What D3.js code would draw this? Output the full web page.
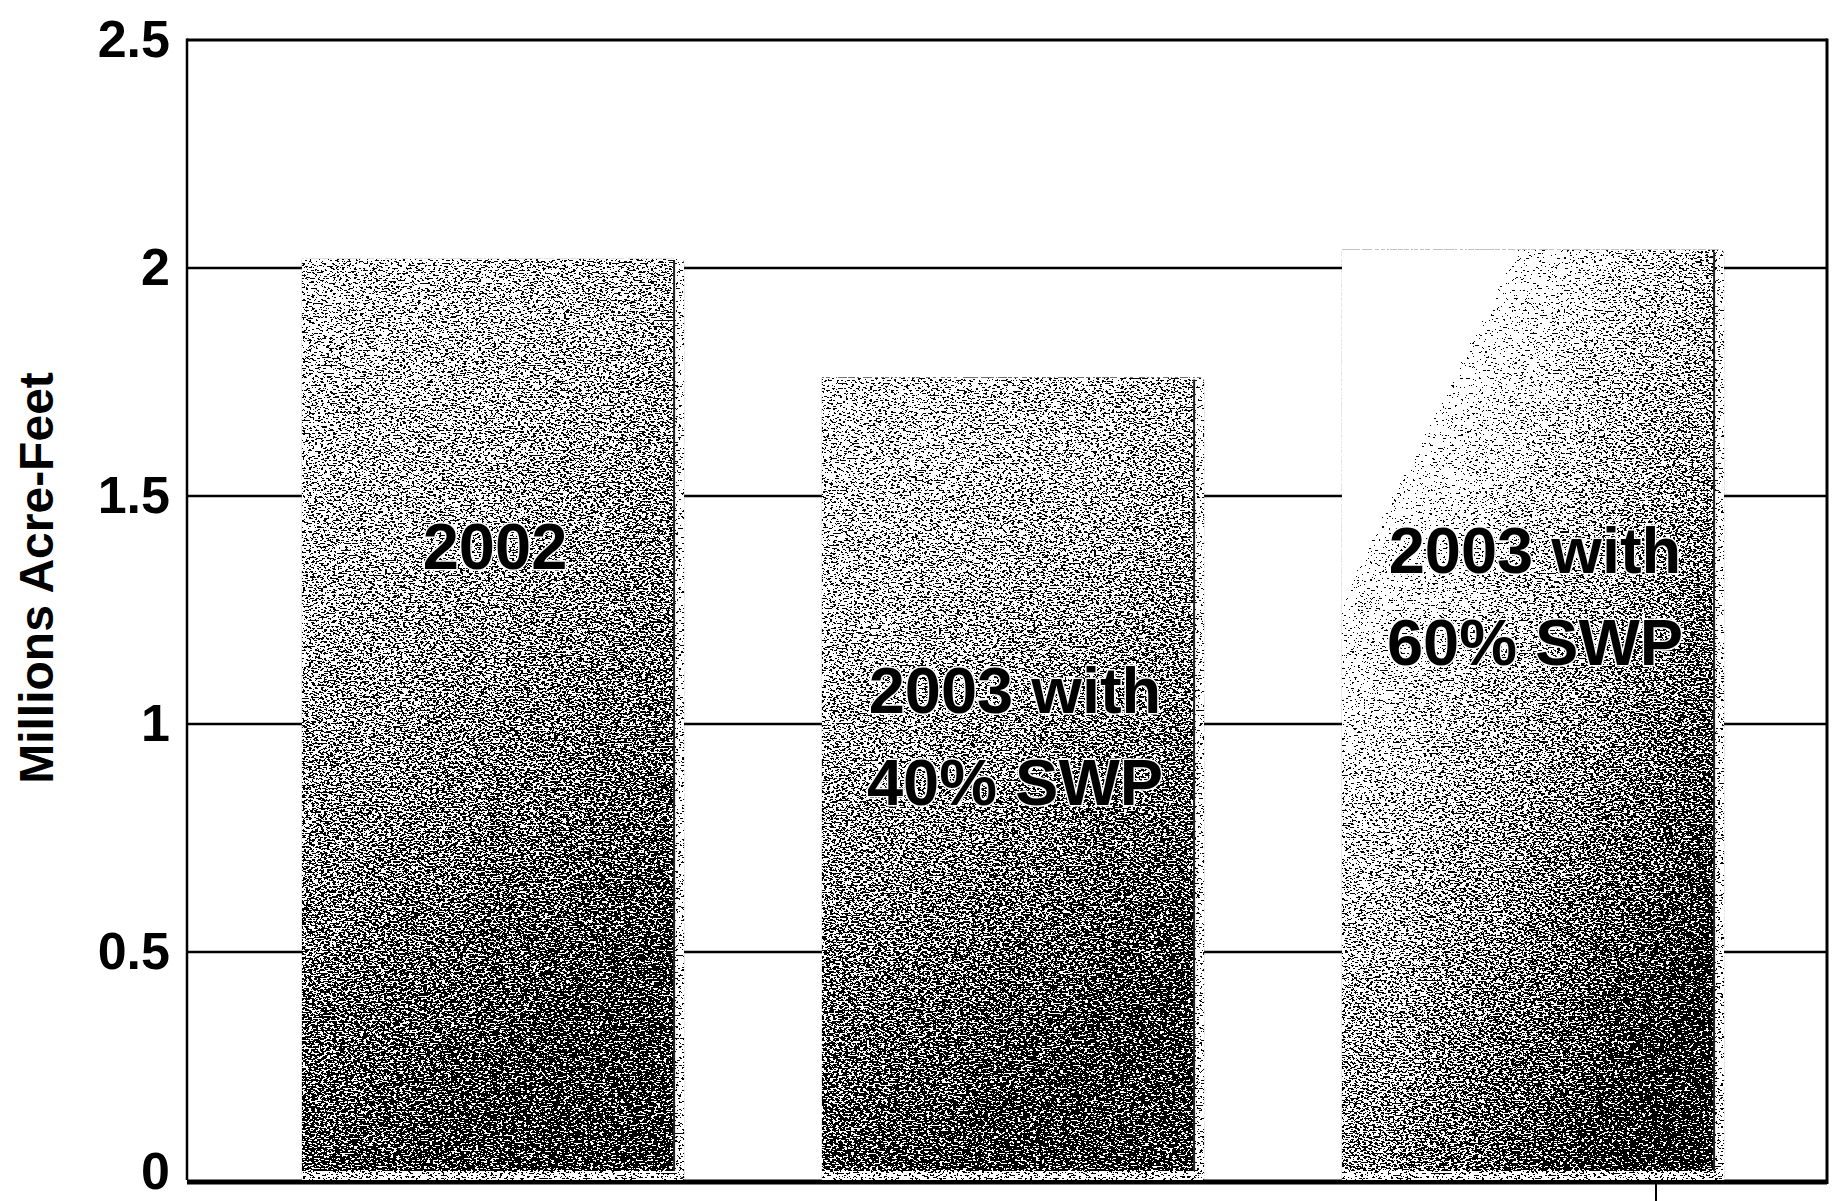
<!DOCTYPE html>
<html>
<head>
<meta charset="utf-8">
<script src="https://cdn.jsdelivr.net/npm/d3@7"></script>
<style>
  html, body { margin: 0; padding: 0; background: #fff; }
  svg { display: block; }
  text { font-family: "Liberation Sans", Arial, Helvetica, sans-serif; font-weight: bold; }
</style>
</head>
<body>
<script>
// ---- data ----
const categories = ["2002", "2003 with 40% SWP", "2003 with 60% SWP"];
const barLabelLines = [["2002"], ["2003 with", "40% SWP"], ["2003 with", "60% SWP"]];
const values = [2.02, 1.76, 2.04];
const yTicks = [0, 0.5, 1, 1.5, 2, 2.5];
const yTickLabels = ["0", "0.5", "1", "1.5", "2", "2.5"];
const yTitle = "Millions Acre-Feet";

// ---- layout ----
const W = 1833, H = 1201;
const plotLeft = 187, plotRight = 1827;
const labelBaselines = [569, 713, 573];
const labelLineGap = 92;

const svg = d3.select("body").append("svg").attr("width", W).attr("height", H);
const defs = svg.append("defs");

// dithering filter (scanned halftone look)
const f = defs.append("filter").attr("id", "dither")
  .attr("filterUnits", "userSpaceOnUse").attr("x", 0).attr("y", 0).attr("width", W).attr("height", H)
  .attr("color-interpolation-filters", "sRGB");
f.append("feTurbulence").attr("type", "fractalNoise").attr("baseFrequency", "0.33 0.6")
  .attr("numOctaves", 2).attr("seed", 7).attr("result", "noise");
f.append("feColorMatrix").attr("in", "noise").attr("type", "matrix")
  .attr("values", "1 0 0 0 0  1 0 0 0 0  1 0 0 0 0  0 0 0 0 1").attr("result", "ng");
const st = f.append("feComponentTransfer").attr("in", "ng").attr("result", "ns");
["R", "G", "B"].forEach(c => st.append("feFunc" + c).attr("type", "linear").attr("slope", 2.6).attr("intercept", -0.8));
f.append("feComposite").attr("in", "SourceGraphic").attr("in2", "ns").attr("operator", "arithmetic")
  .attr("k1", 0).attr("k2", 1).attr("k3", 1).attr("k4", -0.5).attr("result", "sum");
const th = f.append("feComponentTransfer").attr("in", "sum").attr("result", "thr");
["R", "G", "B"].forEach(c => th.append("feFunc" + c).attr("type", "discrete").attr("tableValues", "0 1"));
th.append("feFuncA").attr("type", "linear").attr("slope", 0).attr("intercept", 1);
f.append("feComposite").attr("in", "thr").attr("in2", "SourceAlpha").attr("operator", "in");

// gradients per bar
const gradSpecs = [
  {x2: 0.35, y2: 1, stops: [[0, "#c0c0c0"], [0.35, "#a4a4a4"], [0.7, "#767676"], [1, "#484848"]]},
  {x2: 0.35, y2: 1, stops: [[0, "#c6c6c6"], [0.35, "#a8a8a8"], [0.7, "#767676"], [1, "#484848"]]},
  {x2: 0.76, y2: 0.96, stops: [[0, "#ffffff"], [0.24, "#ffffff"], [0.42, "#c0c0c0"], [0.6, "#989898"], [0.82, "#666666"], [1, "#3a3a3a"]]}
];
gradSpecs.forEach((g, i) => {
  const lg = defs.append("linearGradient").attr("id", "g" + i)
    .attr("x1", 0).attr("y1", 0).attr("x2", g.x2).attr("y2", g.y2);
  g.stops.forEach(s => lg.append("stop").attr("offset", s[0]).attr("stop-color", s[1]));
});
const sideGrad = defs.append("linearGradient").attr("id", "side").attr("x1", 0).attr("y1", 0).attr("x2", 0).attr("y2", 1);
sideGrad.append("stop").attr("offset", 0).attr("stop-color", "#e0e0e0");
sideGrad.append("stop").attr("offset", 1).attr("stop-color", "#c8c8c8");

// ---- scales ----
const x = d3.scaleBand().domain(categories).range([233, 1793]).paddingInner(0.265).paddingOuter(0.1325);
const y = d3.scaleLinear().domain([0, 2.5]).range([1180, 40]);

// gridlines
svg.append("g").selectAll("line").data(yTicks.filter(d => d > 0 && d < 2.5)).join("line")
  .attr("x1", plotLeft).attr("x2", plotRight)
  .attr("y1", d => y(d)).attr("y2", d => y(d))
  .attr("stroke", "#000").attr("stroke-width", 2.5);

// frame: top, right, left
svg.append("line").attr("x1", plotLeft).attr("x2", plotRight).attr("y1", y(2.5)).attr("y2", y(2.5))
  .attr("stroke", "#000").attr("stroke-width", 3);
svg.append("line").attr("x1", plotRight).attr("x2", plotRight).attr("y1", y(2.5) - 1.5).attr("y2", y(0) + 4)
  .attr("stroke", "#000").attr("stroke-width", 3);
svg.append("line").attr("x1", plotLeft).attr("x2", plotLeft).attr("y1", y(2.5) - 1.5).attr("y2", y(0))
  .attr("stroke", "#000").attr("stroke-width", 2.5);

// baseline (thick)
svg.append("line").attr("x1", plotLeft).attr("x2", plotRight).attr("y1", y(0) + 2).attr("y2", y(0) + 2)
  .attr("stroke", "#000").attr("stroke-width", 5);

// bars
const sideW = 10, bottomH = 9;
const bars = svg.append("g").selectAll("g").data(categories).join("g");
bars.each(function (c, i) {
  const g = d3.select(this);
  const x0 = x(c), bw = x.bandwidth(), faceW = bw - sideW;
  const top = y(values[i]), bot = y(0);
  const dg = g.append("g").attr("filter", "url(#dither)");
  dg.append("rect").attr("x", x0).attr("y", top).attr("width", faceW).attr("height", bot - top - bottomH)
    .attr("fill", `url(#g${i})`);
  dg.append("path")
    .attr("d", `M${x0 + faceW},${top} L${x0 + faceW + sideW - 4},${top} Q${x0 + bw},${top} ${x0 + bw},${top + 6} L${x0 + bw},${bot} L${x0 + faceW},${bot - bottomH} Z`)
    .attr("fill", "url(#side)");
  dg.append("path")
    .attr("d", `M${x0},${bot - bottomH} L${x0 + faceW},${bot - bottomH} L${x0 + bw},${bot} L${x0},${bot} Z`)
    .attr("fill", "#bdbdbd");
  g.append("line").attr("x1", x0 + faceW).attr("x2", x0 + faceW).attr("y1", top + 2).attr("y2", bot - bottomH)
    .attr("stroke", "#222").attr("stroke-width", 2);
});

// bar labels
bars.each(function (c, i) {
  const g = d3.select(this);
  const cx = x(c) + x.bandwidth() / 2 + 2;
  barLabelLines[i].forEach((line, j) => {
    g.append("text").attr("x", cx).attr("y", labelBaselines[i] + j * labelLineGap)
      .attr("text-anchor", "middle").attr("font-size", 65)
      .attr("fill", "#000").attr("stroke", "#fff").attr("stroke-width", 3)
      .attr("paint-order", "stroke").attr("stroke-linejoin", "round")
      .text(line);
  });
});

// y axis tick labels
const yAxis = d3.axisLeft(y).tickValues(yTicks).tickFormat((d, i) => yTickLabels[i]).tickSize(0).tickPadding(17);
const ax = svg.append("g").attr("transform", `translate(${plotLeft},0)`).call(yAxis);
ax.select(".domain").remove();
ax.selectAll("text").attr("font-size", 52).attr("fill", "#000")
  .attr("dy", d => d === 0 ? "0.17em" : "0.32em")
  .style("font-family", '"Liberation Sans", Arial, sans-serif').style("font-weight", "bold");

// y title
svg.append("text").attr("transform", `translate(53,578) rotate(-90)`)
  .attr("text-anchor", "middle").attr("font-size", 48).attr("fill", "#000").text(yTitle);

// small tick artifact below baseline at bottom right
svg.append("line").attr("x1", 1656).attr("x2", 1656).attr("y1", y(0) + 4).attr("y2", H)
  .attr("stroke", "#000").attr("stroke-width", 2);
</script>
</body>
</html>
